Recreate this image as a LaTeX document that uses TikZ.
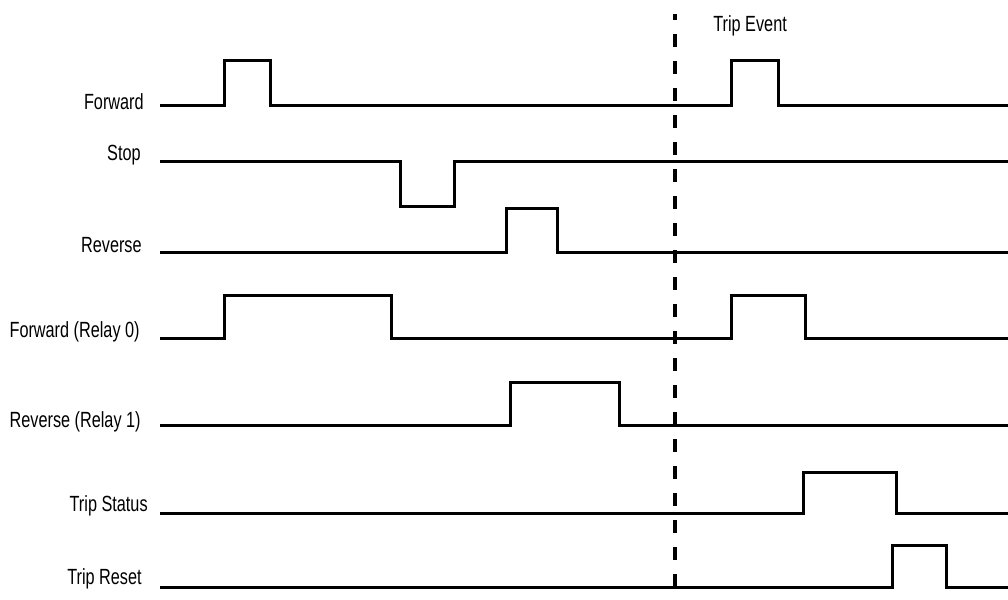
\documentclass[tikz,border=0pt]{standalone}
\usepackage{fontspec}
\setmainfont{Liberation Sans}[FakeStretch=0.74]
\usepackage{tikz}
\usetikzlibrary{positioning}

\tikzset{
  signal/.style={line width=0.6mm, line join=miter},
  signame/.style={anchor=base east, inner sep=0pt, font=\fontsize{12.5}{14}\selectfont},
  eventline/.style={line width=0.7mm, dash pattern=on 2.6mm off 2.8mm, dash phase=1.4mm},
}

\begin{document}
\begin{tikzpicture}[x=0.2mm, y=-0.2mm]
  \useasboundingbox (0,0) rectangle (1008,599);

  % signal names
  \node[signame] (fwd)    at (144,109) {Forward};
  \node[signame] (stop)   at (141,160) {Stop};
  \node[signame] (rev)    at (142,252) {Reverse};
  \node[signame] (relay0) at (140,337) {Forward (Relay 0)};
  \node[signame] (relay1) at (141,427) {Reverse (Relay 1)};
  \node[signame] (tstat)  at (148,511) {Trip Status};
  \node[signame] (treset) at (142,584) {Trip Reset};

  % trip event marker
  \coordinate (evtop) at (675,14);
  \coordinate (evbot) at (675,599);
  \draw[eventline] (evtop) -- (evbot);
  \node[anchor=base west, inner sep=0pt, font=\fontsize{12.5}{14}\selectfont]
    (evlabel) at (713,31) {Trip Event};

  % waveforms
  \draw[signal] (160,105) -- (224,105) -- (224,60) -- (270,60) -- (270,105)
    -- (731,105) -- (731,60) -- (778,60) -- (778,105) -- (1008,105);
  \draw[signal] (160,161) -- (400,161) -- (400,206) -- (454,206) -- (454,161)
    -- (1008,161);
  \draw[signal] (160,252) -- (506,252) -- (506,208) -- (557,208) -- (557,252)
    -- (1008,252);
  \draw[signal] (160,338) -- (224,338) -- (224,295) -- (391,295) -- (391,338)
    -- (731,338) -- (731,295) -- (805,295) -- (805,338) -- (1008,338);
  \draw[signal] (160,425) -- (510,425) -- (510,382) -- (619,382) -- (619,425)
    -- (1008,425);
  \draw[signal] (160,513) -- (803,513) -- (803,472) -- (896,472) -- (896,513)
    -- (1008,513);
  \draw[signal] (160,587) -- (892,587) -- (892,545) -- (946,545) -- (946,587)
    -- (1008,587);
\end{tikzpicture}
\end{document}
